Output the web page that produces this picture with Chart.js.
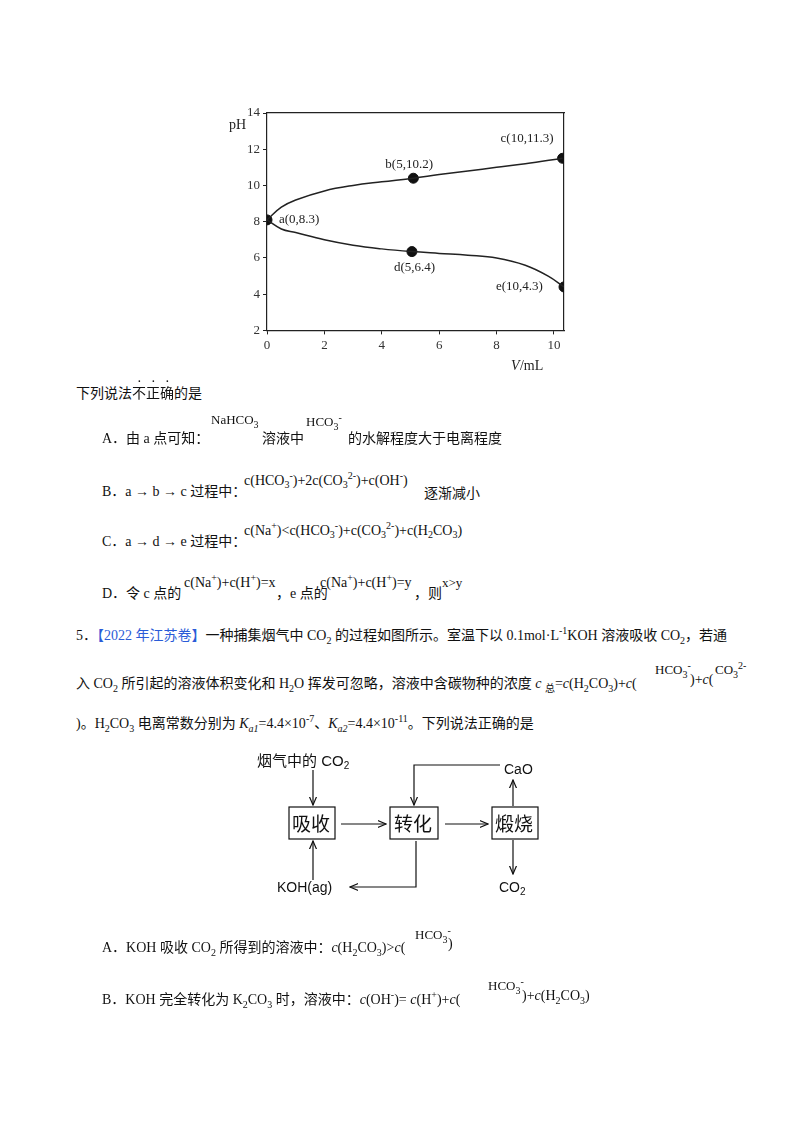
<!DOCTYPE html>
<html>
<head>
<meta charset="utf-8">
<script src="https://cdn.jsdelivr.net/npm/chart.js"></script>
<style>
  body { margin: 0; background: #fff; width: 800px; height: 1132px; position: relative; overflow: hidden;
         font-family: "Liberation Serif", "Noto Sans CJK SC", serif; font-size: 14px; color: #111; }
  .t { position: absolute; white-space: nowrap; }
  .s { font-size: 10px; vertical-align: super; }
  .b { font-size: 10px; vertical-align: sub; }
  .f { position: absolute; font-size: 13px; white-space: nowrap; }
  .dot { position: relative; }
  .dot::before { content: "·"; position: absolute; top: -12px; left: 5px; font-size: 14px; }
  .blue { color: #2a5bd7; }
  #wrap { position: absolute; left: 222px; top: 95px; width: 356px; height: 285px; }
</style>
</head>
<body>
<div id="wrap"><canvas id="c"></canvas></div>

<div class="t" style="left:76px;top:382px">下列说法<span class="dot">不</span><span class="dot">正</span><span class="dot">确</span>的是</div>
<div class="t" style="left:102px;top:427px">A．由 a 点可知：</div>
<div class="f" style="left:211px;top:412px">NaHCO<span class="b">3</span></div>
<div class="t" style="left:262px;top:427px">溶液中</div>
<div class="f" style="left:306px;top:412px">HCO<span class="b">3</span><span class="s">-</span></div>
<div class="t" style="left:348px;top:427px">的水解程度大于电离程度</div>

<div class="t" style="left:102px;top:480px">B．a → b → c 过程中：</div>
<div class="f" style="left:244px;top:470px;font-size:14px">c(HCO<span class="b">3</span><span class="s">-</span>)+2c(CO<span class="b">3</span><span class="s">2-</span>)+c(OH<span class="s">-</span>)</div>
<div class="t" style="left:424px;top:482px">逐渐减小</div>

<div class="t" style="left:102px;top:530px">C．a → d → e 过程中：</div>
<div class="f" style="left:244px;top:520px;font-size:14px">c(Na<span class="s">+</span>)&lt;c(HCO<span class="b">3</span><span class="s">-</span>)+c(CO<span class="b">3</span><span class="s">2-</span>)+c(H<span class="b">2</span>CO<span class="b">3</span>)</div>

<div class="t" style="left:102px;top:582px">D．令 c 点的</div>
<div class="f" style="left:184px;top:572px;font-size:14px">c(Na<span class="s">+</span>)+c(H<span class="s">+</span>)=x</div>
<div class="t" style="left:276px;top:582px">，e 点的</div>
<div class="f" style="left:320px;top:572px;font-size:14px">c(Na<span class="s">+</span>)+c(H<span class="s">+</span>)=y</div>
<div class="t" style="left:414px;top:582px">，则</div>
<div class="f" style="left:442px;top:575px">x&gt;y</div>

<div class="t" style="left:76px;top:624px">5．<span class="blue">【2022 年江苏卷】</span>一种捕集烟气中 CO<span class="b">2</span> 的过程如图所示。室温下以 0.1mol·L<span class="s">-1</span>KOH 溶液吸收 CO<span class="b">2</span>，若通</div>
<div class="t" style="left:76px;top:672px">入 CO<span class="b">2</span> 所引起的溶液体积变化和 H<span class="b">2</span>O 挥发可忽略，溶液中含碳物种的浓度 <i>c</i> <span class="b">总</span>=<i>c</i>(H<span class="b">2</span>CO<span class="b">3</span>)+<i>c</i>(</div>
<div class="f" style="left:655px;top:660px">HCO<span class="b">3</span><span class="s">-</span></div>
<div class="t" style="left:690px;top:672px">)+<i>c</i>(</div>
<div class="f" style="left:715px;top:660px">CO<span class="b">3</span><span class="s">2-</span></div>
<div class="t" style="left:76px;top:712px">)。H<span class="b">2</span>CO<span class="b">3</span> 电离常数分别为 <i>K<span class="b">a1</span></i>=4.4×10<span class="s">-7</span>、<i>K<span class="b">a2</span></i>=4.4×10<span class="s">-11</span>。下列说法正确的是</div>

<svg style="position:absolute;left:0;top:0" width="800" height="1132">
  <defs><marker id="ar" markerWidth="8" markerHeight="8" refX="7" refY="4" orient="auto"><path d="M0,1 L7,4 L0,7" fill="none" stroke="#111"/></marker></defs>
  <g fill="none" stroke="#111" stroke-width="1.2">
    <rect x="289" y="807" width="46" height="32"/>
    <rect x="390" y="807" width="48" height="32"/>
    <rect x="492" y="807" width="46" height="32"/>
    <line x1="313" y1="770" x2="313" y2="805" marker-end="url(#ar)"/>
    <line x1="313" y1="880" x2="313" y2="841" marker-end="url(#ar)"/>
    <line x1="341" y1="824" x2="386" y2="824" marker-end="url(#ar)"/>
    <line x1="445" y1="824" x2="488" y2="824" marker-end="url(#ar)"/>
    <polyline points="416,841 416,887 350,887" marker-end="url(#ar)"/>
    <polyline points="500,765 414,765 414,805" marker-end="url(#ar)"/>
    <line x1="513" y1="806" x2="513" y2="780" marker-end="url(#ar)"/>
    <line x1="513" y1="840" x2="513" y2="874" marker-end="url(#ar)"/>
  </g>
  <g font-family="Liberation Sans, Noto Sans CJK SC" fill="#111">
    <text x="257" y="766" font-size="15">烟气中的 CO<tspan font-size="10" dy="3">2</tspan></text>
    <text x="504" y="774" font-size="14">CaO</text>
    <text x="292" y="831" font-size="19">吸收</text>
    <text x="394" y="831" font-size="19">转化</text>
    <text x="495" y="831" font-size="19">煅烧</text>
    <text x="277" y="892" font-size="14">KOH(ag)</text>
    <text x="499" y="892" font-size="14">CO<tspan font-size="10" dy="3">2</tspan></text>
  </g>
</svg>

<div class="t" style="left:102px;top:936px">A．KOH 吸收 CO<span class="b">2</span> 所得到的溶液中：<i>c</i>(H<span class="b">2</span>CO<span class="b">3</span>)&gt;<i>c</i>(</div>
<div class="f" style="left:415px;top:925px">HCO<span class="b">3</span><span class="s">-</span></div>
<div class="t" style="left:448px;top:936px">)</div>
<div class="t" style="left:102px;top:988px">B．KOH 完全转化为 K<span class="b">2</span>CO<span class="b">3</span> 时，溶液中：<i>c</i>(OH<span class="s">-</span>)= <i>c</i>(H<span class="s">+</span>)+<i>c</i>(</div>
<div class="f" style="left:488px;top:976px">HCO<span class="b">3</span><span class="s">-</span></div>
<div class="t" style="left:522px;top:988px">)+<i>c</i>(H<span class="b">2</span>CO<span class="b">3</span>)</div>

<script>
// 曲线数据 (V/mL, pH)
const upperV = [0, 0.5, 1, 2, 3, 4, 5.1, 6, 7, 8, 9, 10.3];
const upperPH = [8.1, 8.8, 9.2, 9.7, 10.0, 10.2, 10.4, 10.6, 10.8, 11.0, 11.2, 11.5];
const lowerV = [0, 0.5, 1, 2, 3, 4, 5.05, 6, 7, 8, 9, 9.8, 10.35];
const lowerPH = [8.1, 7.6, 7.4, 7.0, 6.7, 6.5, 6.35, 6.25, 6.15, 6.0, 5.6, 5.0, 4.4];
const pointNames = ['a(0,8.3)', 'b(5,10.2)', 'c(10,11.3)', 'd(5,6.4)', 'e(10,4.3)'];
const pointV = [0, 5.1, 10.3, 5.05, 10.35];
const pointPH = [8.1, 10.4, 11.5, 6.35, 4.4];
const labelDx = [12, -28, -62, -18, -68];
const labelDy = [0, -14, -20, 16, 0];
const yTicks = [2, 4, 6, 8, 10, 12, 14];
const xTicks = [0, 2, 4, 6, 8, 10];

const toXY = (xs, ys) => xs.map((x, i) => ({ x: x, y: ys[i] }));

// 在图上写点的名称和坐标轴标题
const labelPlugin = {
    id: 'labels',
    afterDatasetsDraw(chart) {
        const ctx = chart.ctx;
        const xs = chart.scales.x, ys = chart.scales.y;
        ctx.save();
        ctx.fillStyle = '#222';
        ctx.font = '13px "Liberation Serif"';
        ctx.textBaseline = 'middle';
        pointNames.forEach((n, i) => {
            ctx.fillText(n, xs.getPixelForValue(pointV[i]) + labelDx[i], ys.getPixelForValue(pointPH[i]) + labelDy[i]);
        });
        ctx.font = '14px "Liberation Serif"';
        ctx.fillText('pH', chart.chartArea.left - 38, ys.getPixelForValue(13.3));
        ctx.font = 'italic 14px "Liberation Serif"';
        ctx.fillText('V', xs.getPixelForValue(8.5), chart.chartArea.bottom + 36);
        ctx.font = '14px "Liberation Serif"';
        ctx.fillText('/mL', xs.getPixelForValue(8.5) + 9, chart.chartArea.bottom + 36);
        ctx.restore();
    }
};

new Chart(document.getElementById('c'), {
    type: 'scatter',
    data: {
        datasets: [
            { data: toXY(upperV, upperPH), showLine: true, tension: 0.4, borderColor: '#222', borderWidth: 1.5, pointRadius: 0 },
            { data: toXY(lowerV, lowerPH), showLine: true, tension: 0.4, borderColor: '#222', borderWidth: 1.5, pointRadius: 0 },
            { data: toXY(pointV, pointPH), pointRadius: 5, backgroundColor: '#111', borderColor: '#111' }
        ]
    },
    options: {
        responsive: true,
        maintainAspectRatio: false,
        animation: false,
        layout: { padding: { left: 22, bottom: 24, right: 6, top: 10 } },
        plugins: { legend: { display: false }, tooltip: { enabled: false } },
        scales: {
            x: {
                type: 'linear', min: 0, max: 10.35,
                afterBuildTicks: s => { s.ticks = xTicks.map(v => ({ value: v })); },
                grid: { drawOnChartArea: false, tickLength: 4, color: '#222' },
                border: { color: '#222', width: 1.2 },
                ticks: { color: '#333', font: { family: 'Liberation Serif', size: 13 } }
            },
            y: {
                min: 2, max: 14,
                afterBuildTicks: s => { s.ticks = yTicks.map(v => ({ value: v })); },
                grid: { drawOnChartArea: false, tickLength: 4, color: '#222' },
                border: { color: '#222', width: 1.2 },
                ticks: { color: '#333', font: { family: 'Liberation Serif', size: 13 } }
            },
            x2: { position: 'top', min: 0, max: 10.35, ticks: { display: false }, grid: { display: false }, border: { color: '#222', width: 1.2 } },
            y2: { position: 'right', min: 2, max: 14, ticks: { display: false }, grid: { display: false }, border: { color: '#222', width: 1.2 } }
        }
    },
    plugins: [labelPlugin]
});
</script>
</body>
</html>
